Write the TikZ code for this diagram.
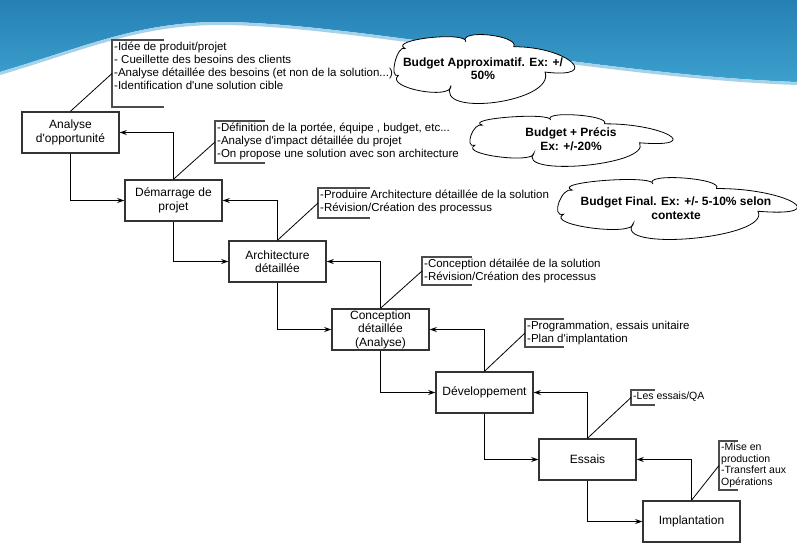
\documentclass[tikz,border=0pt]{standalone}
\usepackage{fontspec}
\setmainfont{Liberation Sans}[Ligatures=TeXOff]
\usetikzlibrary{arrows.meta}
\definecolor{waveTop}{RGB}{38,128,180}
\definecolor{waveLow}{RGB}{60,160,205}
\definecolor{waveEdge}{RGB}{165,210,232}

\begin{document}
\begin{tikzpicture}[x=1pt,y=-1pt,
  phase/.style={draw=black!80, line width=1.5pt, fill=white, minimum width=97pt, minimum height=41pt, inner sep=1pt, align=center, font=\fontsize{12}{13.5}\selectfont},
  flow/.style={-{Stealth[length=7pt,width=5pt]}, line width=0.8pt},
  bracket/.style={draw=black!70, line width=1.3pt},
  note/.style={anchor=north west, inner sep=1pt, align=left},
  budget/.style={draw, line width=0.8pt, fill=white},
  budgettext/.style={align=center, font=\fontsize{12}{13.5}\bfseries}]
   \useasboundingbox (0,0) rectangle (797,547);

   % bandeau du haut
   \shade[top color=waveTop, bottom color=waveLow] (0,0) -- (797,0) -- (797,82) .. controls (600,75) and (350,22) .. (220,22) .. controls (140,22) and (90,45) .. (0,72) -- cycle;
   \draw[waveEdge, line width=3pt] (797,83.5) .. controls (600,76.5) and (350,23.5) .. (220,23.5) .. controls (140,23.5) and (90,46.5) .. (0,73.5);

   % les budgets (nuages)
   \foreach \x/\y/\w/\h in {395/35/178/68, 471/115/200/51, 559/178/236/61} {
    \pgfmathsetmacro{\sx}{\w/100}
    \pgfmathsetmacro{\sy}{\h/100}
    \begin{scope}[shift={(\x,\y)}, x=\sx pt, y=-\sy pt]
     \draw[budget] (5.6,19.8) .. controls (-3.9,6.8) and (40.5,-6.1) .. (39.8,9.9) .. controls (35.2,-9.3) and (70.1,0.3) .. (66.7,17.3) .. controls (96.8,16.6) and (117,65) .. (84.3,54.5) .. controls (90.3,99) and (21.7,122) .. (31.5,74.3) .. controls (32.2,96.7) and (-6.2,77.4) .. (1.9,59.4) .. controls (-3.65,65.3) and (1.15,13.9) .. cycle;
    \end{scope}
   }
   \node[budgettext] (budget1) at (483,68.5) {Budget Approximatif. Ex: +/\\50\%};
   \node[budgettext] (budget2) at (571,139) {Budget + Précis\\Ex: +/-20\%};
   \node[budgettext] (budget3) at (676,208) {Budget Final. Ex: +/- 5-10\% selon\\contexte};

   % les phases
   \foreach \i/\x/\y/\txt in {1/70.5/132.5/{Analyse\\d'opportunité}, 2/173.5/200.5/{Démarrage de\\projet}, 3/277.5/261.5/{Architecture\\détaillée}, 4/380.5/329.5/{Conception\\détaillée\\(Analyse)}, 5/484.5/392.5/{Développement}, 6/587.5/459.5/{Essais}, 7/691.5/521.5/{Implantation}} {
    \node[phase] (phase\i) at (\x,\y) {\txt};
   }

   \foreach \i in {1,...,6} {
    \pgfmathtruncatemacro{\j}{\i+1}
    \draw[flow] (phase\i.south) |- (phase\j.west);
    \draw[flow] (phase\j.north) |- (phase\i.east);
   }

   % les notes
   \foreach \i/\x/\ya/\yb/\w/\fsz/\lsz/\txt in {1/112/40/107/52/11.5/13/{-Idée de produit/projet\\- Cueillette des besoins des clients\\-Analyse détaillée des besoins (et non de la solution...)\\-Identification d'une solution cible}, 2/215/121/163/50/11.5/13/{-Définition de la portée, équipe , budget, etc...\\-Analyse d'impact détaillée du projet\\-On propose une solution avec son architecture}, 3/318/188/218/52/11.5/13/{-Produire Architecture détaillée de la solution\\-Révision/Création des processus}, 4/422/257/285/50/11.5/13/{-Conception détailée de la solution\\-Révision/Création des processus}, 5/525/319/347/39/11.5/12.5/{-Programmation, essais unitaire\\-Plan d'implantation}, 6/631/390/405/24/10.5/11.5/{-Les essais/QA}, 7/719/441/490/19/10.5/11.5/{-Mise en\\production\\-Transfert aux\\Opérations}} {
    \pgfmathsetmacro{\ym}{(\ya+\yb)/2}
    \draw[bracket] ({\x+\w},\ya) -- (\x,\ya) -- (\x,\yb) -- ({\x+\w},\yb);
    \coordinate (tag\i) at (\x,\ym);
    \node[note, font=\fontsize{\fsz}{\lsz}\selectfont] (note\i) at ({\x+1},{\ya+1}) {\txt};
    \draw[line width=0.8pt] (phase\i.north) -- (tag\i);
   }
\end{tikzpicture}
\end{document}
